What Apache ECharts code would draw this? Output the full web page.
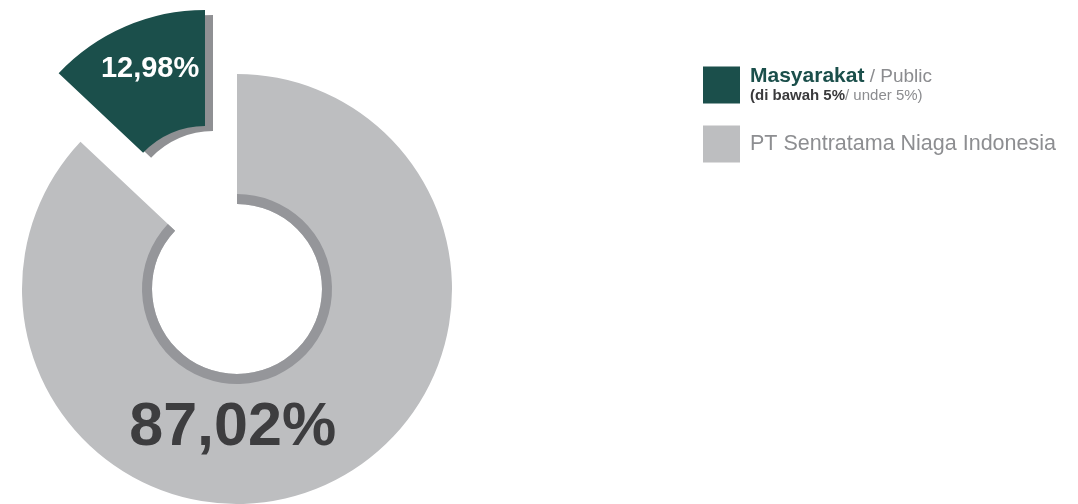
<!DOCTYPE html>
<html>
<head>
<meta charset="utf-8">
<script src="https://cdn.jsdelivr.net/npm/echarts@6/dist/echarts.min.js"></script>
<style>
  html, body { margin: 0; padding: 0; background: #fff; }
  #chart { width: 1078px; height: 504px; }
</style>
</head>
<body>
<div id="chart"></div>
<script>
// komposisi pemegang saham (%)
const names = ['Masyarakat', 'PT Sentratama Niaga Indonesia']
const shares = [12.98, 87.02]
const colors = ['#1b4f4b', '#bdbec0']

const GREEN = colors[0]
const GRAY = colors[1]
const RING = '#95969a'
const FONT = '"Liberation Sans", Arial, sans-serif'

const fmt = v => v.toFixed(2).replace('.', ',') + '%'

// one data list per layer, only the wanted slice is painted
function layer (paint, labelOn) {
  return names.map((n, i) => ({
    name: n,
    value: shares[i],
    itemStyle: paint[i] ? paint[i] : { color: 'transparent' },
    label: { show: !!labelOn[i] }
  }))
}

const chart = echarts.init(document.getElementById('chart'), null, { renderer: 'canvas' })

chart.setOption({
  animation: false,
  legend: {
    orient: 'vertical',
    left: 703,
    top: 66,
    padding: 0,
    itemWidth: 37,
    itemHeight: 37,
    itemGap: 22,
    icon: 'rect',
    selectedMode: false,
    data: [
      { name: names[0], itemStyle: { color: GREEN } },
      { name: names[1], itemStyle: { color: GRAY } }
    ],
    textStyle: {
      fontFamily: FONT,
      padding: [0, 0, 0, 5],
      rich: {
        b: { fontFamily: FONT, fontSize: 21, fontWeight: 'bold', color: GREEN, lineHeight: 21 },
        g: { fontFamily: FONT, fontSize: 19, color: '#8b8c8f', lineHeight: 21 },
        s: { fontFamily: FONT, fontSize: 15, fontWeight: 'bold', color: '#3a3a3c', lineHeight: 17 },
        t: { fontFamily: FONT, fontSize: 15, color: '#8b8c8f', lineHeight: 17 },
        p: { fontFamily: FONT, fontSize: 21.5, color: '#8d8e91', lineHeight: 24 }
      }
    },
    formatter: name => name === names[0]
      ? '{b|Masyarakat}{g| / Public}\n{s|(di bawah 5%}{t|/ under 5%)}'
      : '{p|' + name + '}'
  },
  series: [
    {
      // cincin utama abu-abu
      type: 'pie',
      center: [237, 289],
      radius: [85, 215],
      startAngle: 90,
      clockwise: false,
      silent: true,
      emphasis: { disabled: true },
      labelLine: { show: false },
      label: {
        position: 'inside',
        formatter: p => fmt(p.value),
        fontFamily: FONT,
        fontWeight: 'bold',
        fontSize: 61,
        color: '#3d3d3f'
      },
      labelLayout: { dx: -65, dy: -1 },
      data: layer([null, { color: GRAY }], [false, true])
    },
    {
      // tepi dalam yang lebih gelap
      type: 'pie',
      z: 3,
      center: [237, 289],
      radius: [85, 95],
      startAngle: 90,
      clockwise: false,
      silent: true,
      emphasis: { disabled: true },
      label: { show: false },
      labelLine: { show: false },
      data: layer([null, { color: RING }], [false, false])
    },
    {
      // irisan hijau yang ditarik keluar
      type: 'pie',
      z: 4,
      center: [205, 211],
      radius: [85, 201],
      startAngle: 90,
      clockwise: false,
      silent: true,
      emphasis: { disabled: true },
      labelLine: { show: false },
      label: {
        position: 'inside',
        formatter: p => fmt(p.value),
        fontFamily: FONT,
        fontWeight: 'bold',
        fontSize: 29,
        color: '#ffffff'
      },
      labelLayout: { dx: 3, dy: -8 },
      data: layer([{
        color: GREEN,
        shadowColor: '#8f9093',
        shadowBlur: 0,
        shadowOffsetX: 8,
        shadowOffsetY: 5
      }, null], [true, false])
    }
  ]
})
</script>
</body>
</html>
